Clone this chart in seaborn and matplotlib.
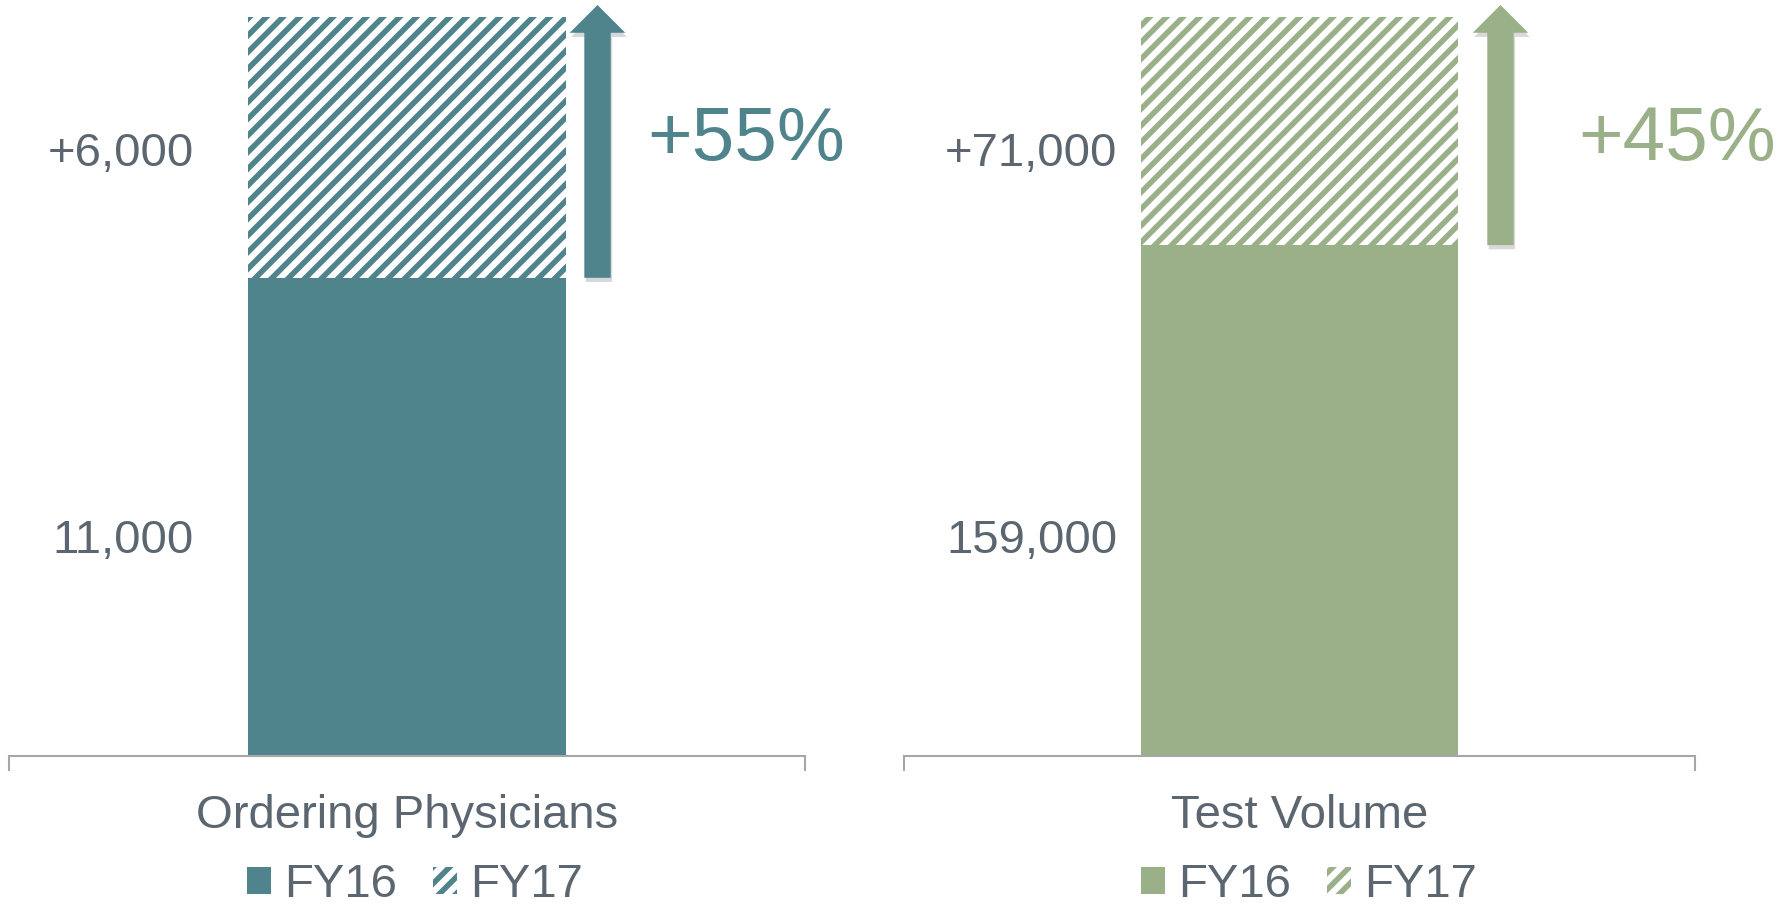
import matplotlib
matplotlib.use("Agg")
import pandas as pd
import seaborn as sns
import matplotlib.pyplot as plt
import matplotlib.patheffects as pe
from matplotlib.patches import Patch

# ---- data ----
categories = ["Ordering Physicians", "Test Volume"]
fy16 = [11000, 159000]
fy17_added = [6000, 71000]
growth = ["+55%", "+45%"]
legend_labels = ["FY16", "FY17"]
colors = ["#4F848C", "#9AB089"]

text_gray = "#5B6670"
axis_gray = "#A6A6A6"

sns.set_theme(style="white")
plt.rcParams["font.family"] = ["Liberation Sans", "DejaVu Sans"]
plt.rcParams["hatch.linewidth"] = 4.0

fig = plt.figure(figsize=(17.87, 9.09), dpi=100)
axes = [fig.add_axes([0.00504, 0.1683, 0.4454, 0.8262]),
        fig.add_axes([0.5059, 0.1683, 0.4426, 0.8262])]

# where the side labels / arrows sit (data x on the category axis)
value_x = [-0.2676, -0.2307]
arrow_x = [0.2394, 0.2541]
pct_x = [0.3015, 0.352]

for i, ax in enumerate(axes):
    total = fy16[i] + fy17_added[i]
    top = total * 1.0162
    df = pd.DataFrame({"cat": [categories[i]], "fy16": [fy16[i]], "fy17": [total]})

    # FY17 total as hatched bar, FY16 solid bar drawn on top
    sns.barplot(data=df, x="cat", y="fy17", ax=ax, color="white",
                width=0.4, saturation=1, linewidth=0)
    sns.barplot(data=df, x="cat", y="fy16", ax=ax, color=colors[i],
                width=0.4, saturation=1, linewidth=0)
    hatched = ax.patches[0]
    hatched.set_facecolor("white")
    hatched.set_edgecolor(colors[i])
    hatched.set_hatch("//")
    hatched.set_linewidth(0)

    ax.set_xlim(-0.5, 0.5)
    ax.set_ylim(0, top)
    ax.set_xlabel("")
    ax.set_ylabel("")
    ax.set_yticks([])

    for s in ["top", "left", "right"]:
        ax.spines[s].set_visible(False)
    ax.spines["bottom"].set_color(axis_gray)
    ax.spines["bottom"].set_linewidth(1.5)

    ax.set_xticks([-0.5, 0.5], minor=True)
    ax.tick_params(axis="x", which="minor", bottom=True, length=11, width=1.5,
                   color=axis_gray)
    ax.tick_params(axis="x", which="major", length=0, labelsize=34,
                   labelcolor=text_gray, pad=27)

    # value labels to the left of the bar
    tr = ax.get_xaxis_transform()
    ax.text(value_x[i], 0.785, f"+{fy17_added[i]:,}", transform=tr,
            ha="right", va="baseline", fontsize=34, color=text_gray)
    ax.text(value_x[i], 0.270, f"{fy16[i]:,}", transform=tr,
            ha="right", va="baseline", fontsize=34, color=text_gray)

    # growth arrow + percentage
    ax.annotate("", xy=(arrow_x[i], top), xytext=(arrow_x[i], fy16[i]),
                arrowprops=dict(width=19, headwidth=40, headlength=20, shrink=0,
                                facecolor=colors[i], edgecolor="none",
                                path_effects=[pe.SimplePatchShadow(offset=(1, -3), alpha=0.18),
                                              pe.Normal()]),
                annotation_clip=False)
    ax.text(pct_x[i], 0.794, growth[i], transform=tr, ha="left", va="baseline",
            fontsize=55, color=colors[i], clip_on=False)

    handles = [Patch(facecolor=colors[i], edgecolor="none"),
               Patch(facecolor="white", edgecolor=colors[i], hatch="//", linewidth=0)]
    ax.legend(handles, legend_labels, loc="center left", bbox_to_anchor=(0.299, -0.172),
              ncol=2, frameon=False, fontsize=34, handlelength=0.51, handleheight=0.53,
              handletextpad=0.28, columnspacing=0.76, borderpad=0, borderaxespad=0,
              labelcolor=text_gray)

fig.savefig("out.png", dpi=100)
